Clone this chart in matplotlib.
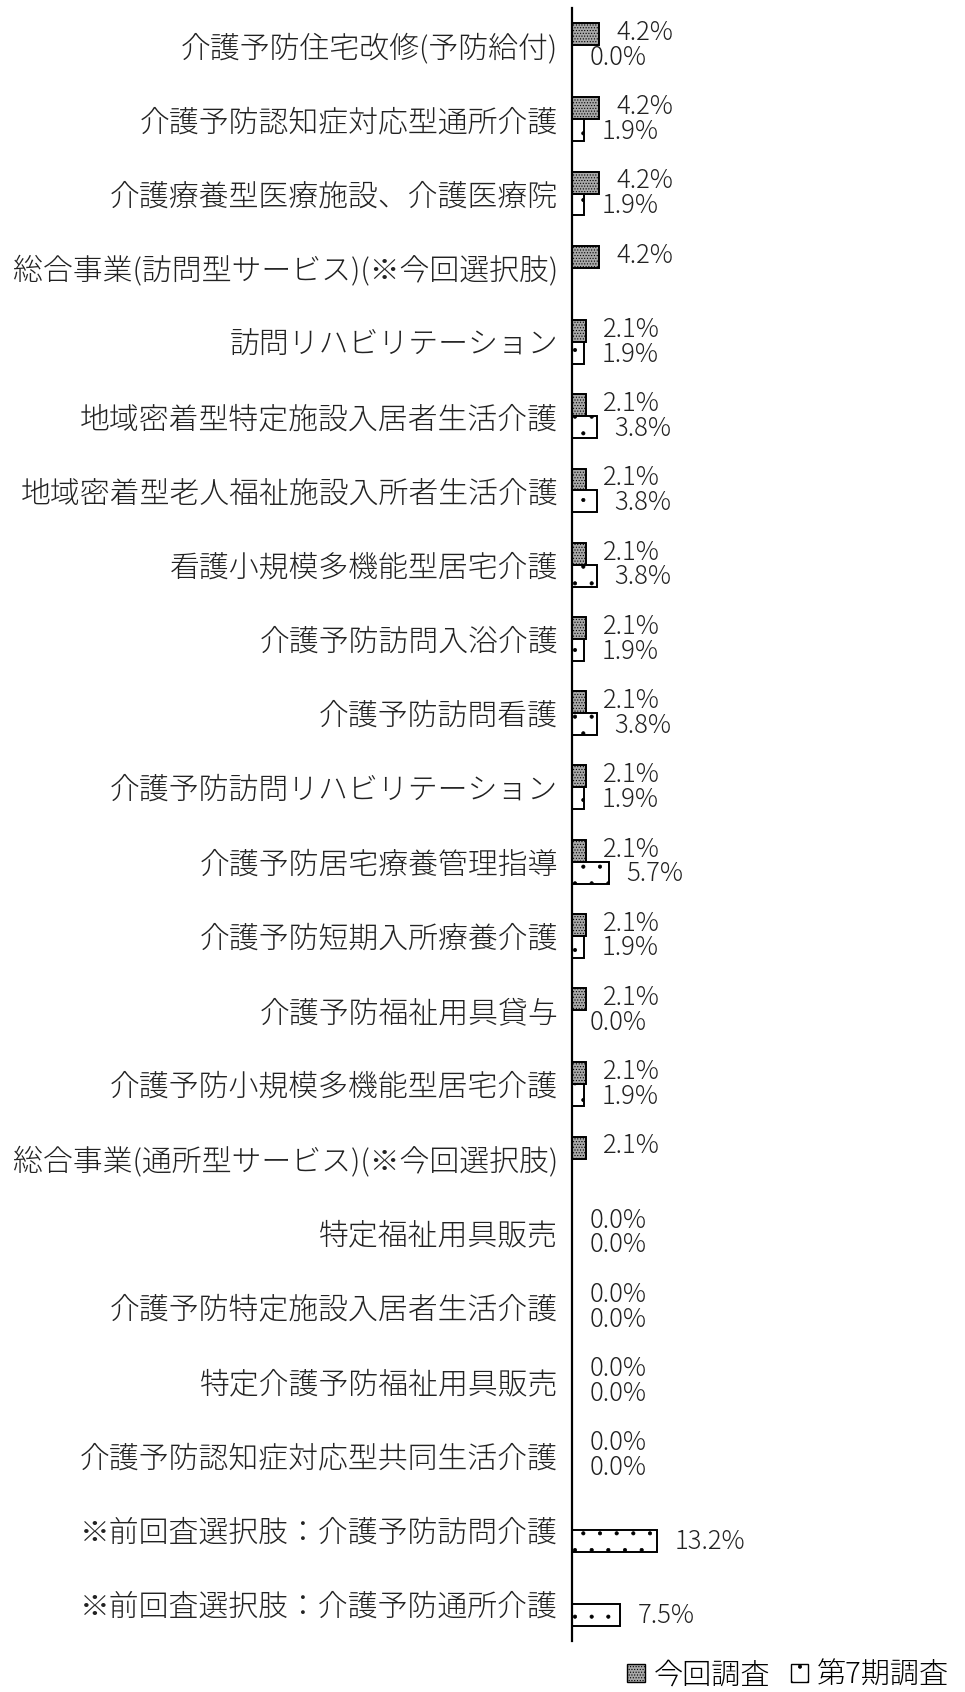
#!/usr/bin/env python3

import numpy as np
import matplotlib
matplotlib.use("Agg")
import matplotlib.pyplot as plt
from matplotlib.patches import Patch

plt.rcParams['font.family'] = ['Noto Sans CJK JP', 'DejaVu Sans']
plt.rcParams['font.weight'] = 'light'
plt.rcParams['hatch.color'] = 'black'
plt.rcParams['hatch.linewidth'] = 0.5

# categories, top to bottom
categories = [
    "介護予防住宅改修(予防給付)",
    "介護予防認知症対応型通所介護",
    "介護療養型医療施設、介護医療院",
    "総合事業(訪問型サービス)(※今回選択肢)",
    "訪問リハビリテーション",
    "地域密着型特定施設入居者生活介護",
    "地域密着型老人福祉施設入所者生活介護",
    "看護小規模多機能型居宅介護",
    "介護予防訪問入浴介護",
    "介護予防訪問看護",
    "介護予防訪問リハビリテーション",
    "介護予防居宅療養管理指導",
    "介護予防短期入所療養介護",
    "介護予防福祉用具貸与",
    "介護予防小規模多機能型居宅介護",
    "総合事業(通所型サービス)(※今回選択肢)",
    "特定福祉用具販売",
    "介護予防特定施設入居者生活介護",
    "特定介護予防福祉用具販売",
    "介護予防認知症対応型共同生活介護",
    "※前回査選択肢：介護予防訪問介護",
    "※前回査選択肢：介護予防通所介護",
]

# None = not asked in that survey
current = [4.2, 4.2, 4.2, 4.2, 2.1, 2.1, 2.1, 2.1, 2.1, 2.1, 2.1,
           2.1, 2.1, 2.1, 2.1, 2.1, 0.0, 0.0, 0.0, 0.0, None, None]
previous = [0.0, 1.9, 1.9, None, 1.9, 3.8, 3.8, 3.8, 1.9, 3.8, 1.9,
            5.7, 1.9, 0.0, 1.9, None, 0.0, 0.0, 0.0, 0.0, 13.2, 7.5]

series_names = ["今回調査", "第7期調査"]


def main():
    W, H = 965, 1692
    fig = plt.figure(figsize=(W / 100, H / 100), dpi=100)

    ax_left, ax_right = 572, 940
    ax_top, ax_bottom = 8, 1641
    ax = fig.add_axes([ax_left / W, 1 - ax_bottom / H,
                       (ax_right - ax_left) / W, (ax_bottom - ax_top) / H])

    n = len(categories)
    y = np.arange(n)
    bar_h = 0.295
    px_per_pct = 6.45
    ax.set_xlim(0, (ax_right - ax_left) / px_per_pct)
    ax.set_ylim(n - 0.5, -0.5)

    cur = np.array([np.nan if v is None else v for v in current])
    prev = np.array([np.nan if v is None else v for v in previous])

    ax.barh(y - bar_h / 2, np.nan_to_num(cur), height=bar_h,
            color='#a8a8a8', edgecolor='black', linewidth=1.4, hatch='......')
    ax.barh(y + bar_h / 2, np.nan_to_num(prev), height=bar_h,
            color='white', edgecolor='black', linewidth=1.4, hatch='.')

    # value labels, slightly pulled apart so the two rows do not touch
    fs = 18.5
    for i in range(n):
        if not np.isnan(cur[i]):
            ax.annotate(f"{cur[i]:.1f}%", (cur[i], y[i] - bar_h / 2),
                        xytext=(12.5, 1), textcoords='offset points',
                        va='center', ha='left', fontsize=fs, color='#222222')
        if not np.isnan(prev[i]):
            ax.annotate(f"{prev[i]:.1f}%", (prev[i], y[i] + bar_h / 2),
                        xytext=(12.5, -1), textcoords='offset points',
                        va='center', ha='left', fontsize=fs, color='#222222')

    ax.set_yticks(y)
    ax.set_yticklabels(categories, fontsize=21.5, color='#222222')
    ax.tick_params(axis='y', length=0, pad=10)
    ax.set_xticks([])
    for side in ['top', 'right', 'bottom']:
        ax.spines[side].set_visible(False)
    ax.spines['left'].set_linewidth(1.6)

    handles = [Patch(facecolor='#a8a8a8', edgecolor='black', hatch='......', linewidth=1.0),
               Patch(facecolor='white', edgecolor='black', hatch='.', linewidth=1.0)]
    fig.legend(handles, series_names, loc='center right',
               bbox_to_anchor=(1.0, 1 - 1675 / H), ncol=2, frameon=False,
               fontsize=21, handlelength=0.6, handleheight=0.6,
               handletextpad=0.3, columnspacing=0.7, borderaxespad=0.15)

    fig.savefig('out.png', dpi=100)


if __name__ == "__main__":
    main()
